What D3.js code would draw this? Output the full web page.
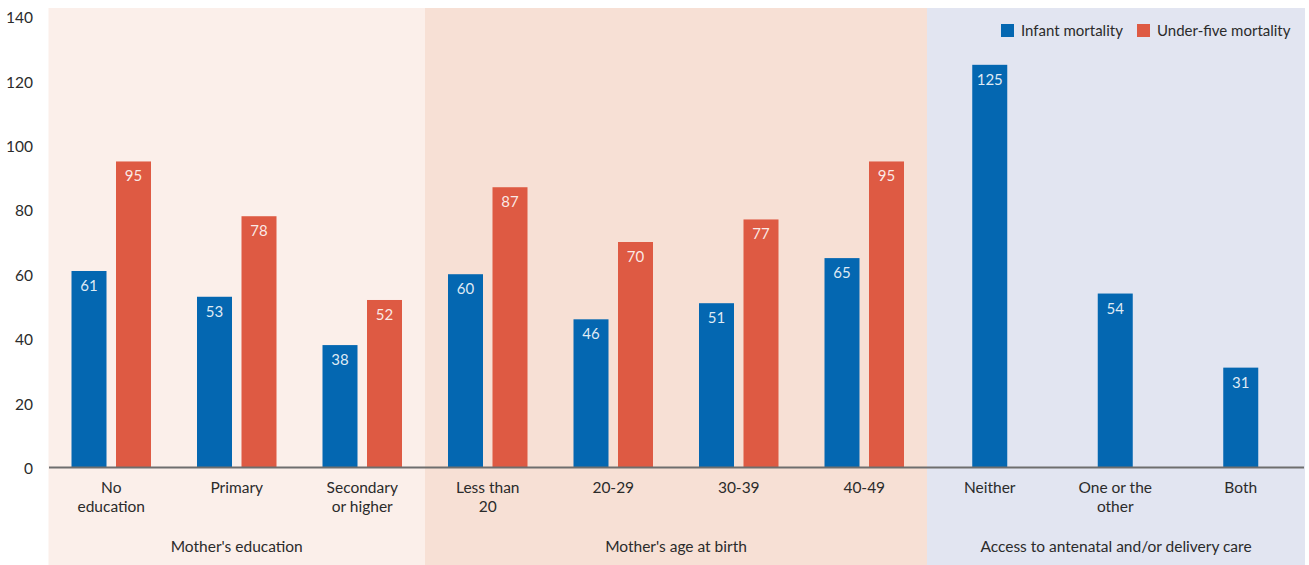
<!DOCTYPE html>
<html><head><meta charset="utf-8">
<script src="https://cdn.jsdelivr.net/npm/d3@7"></script>
<style>body{margin:0;background:#fff}svg{display:block;font-family:Lato,"Open Sans",sans-serif}</style>
</head><body><svg id="c" width="1309" height="565"></svg>
<script>
const categories = ["No\neducation","Primary","Secondary\nor higher","Less than\n20","20-29","30-39","40-49","Neither","One or the\nother","Both"];
const groupOf = [0,0,0,1,1,1,1,2,2,2];
const groups = ["Mother's education","Mother's age at birth","Access to antenatal and/or delivery care"];
const infant = [61,53,38,60,46,51,65,125,54,31];
const underFive = [95,78,52,87,70,77,95,null,null,null];
const yTicks = [0,20,40,60,80,100,120,140];
const seriesNames = ["Infant mortality","Under-five mortality"];

const colors = {infant:"#0467b1", under:"#de5a43", panels:["#fbefea","#f7e0d5","#e2e5f1"], text:"#2b2b2b"};
const svg = d3.select("#c");
const x = d3.scaleBand().domain(d3.range(categories.length)).range([48.5,1303.5]).padding(0);
const y = d3.scaleLinear().domain([0,140]).range([467.5,16.5]);
const bw = 35, gap = 9.5;

// panels
groups.forEach((g,gi)=>{
  const idx = d3.range(categories.length).filter(i=>groupOf[i]===gi);
  const x0 = x(idx[0]), x1 = x(idx[idx.length-1]) + x.bandwidth() + (gi===2?1.5:0);
  svg.append("rect").attr("x",x0).attr("y",8).attr("width",x1-x0).attr("height",557).attr("fill",colors.panels[gi]);
  svg.append("text").attr("x",(x0+x1)/2).attr("y",552).attr("text-anchor","middle")
    .attr("font-size",15.5).attr("fill",colors.text).text(g);
});

// y axis labels
const yAxis = d3.axisLeft(y).tickValues(yTicks).tickSize(0).tickPadding(0);
const ya = svg.append("g").attr("transform","translate(33,0)").call(yAxis);
ya.select(".domain").remove();
ya.selectAll("text").attr("font-size",15.5).attr("fill",colors.text).attr("font-family","Lato,sans-serif").attr("dy","0.4em");

// bars
const bars = svg.append("g");
categories.forEach((c,i)=>{
  const cx = x(i)+x.bandwidth()/2;
  const pair = underFive[i]!=null;
  const items = pair ? [{v:infant[i],col:colors.infant,x:cx-gap/2-bw},{v:underFive[i],col:colors.under,x:cx+gap/2}]
                     : [{v:infant[i],col:colors.infant,x:cx-bw/2}];
  items.forEach(d=>{
    bars.append("rect").attr("x",d.x).attr("y",y(d.v)).attr("width",bw).attr("height",y(0)-y(d.v)).attr("fill",d.col);
    bars.append("text").attr("x",d.x+bw/2).attr("y",y(d.v)+20).attr("text-anchor","middle")
      .attr("font-size",15).attr("fill","#fff").attr("fill-opacity",0.88).text(d.v);
  });
  const lines = c.split("\n");
  lines.forEach((l,li)=>{
    svg.append("text").attr("x",cx).attr("y",493+li*18.5).attr("text-anchor","middle")
      .attr("font-size",15.5).attr("fill",colors.text).text(l);
  });
});

// baseline
svg.append("line").attr("x1",49).attr("x2",1304).attr("y1",y(0)).attr("y2",y(0)).attr("stroke","#6e6e6e").attr("stroke-width",2);

// legend
const leg = [{n:seriesNames[0],c:colors.infant,x:1001},{n:seriesNames[1],c:colors.under,x:1137}];
leg.forEach(l=>{
  svg.append("rect").attr("x",l.x).attr("y",24).attr("width",13).attr("height",13).attr("fill",l.c);
  svg.append("text").attr("x",l.x+20).attr("y",35.5).attr("font-size",15).attr("fill",colors.text).text(l.n);
});
</script></body></html>
